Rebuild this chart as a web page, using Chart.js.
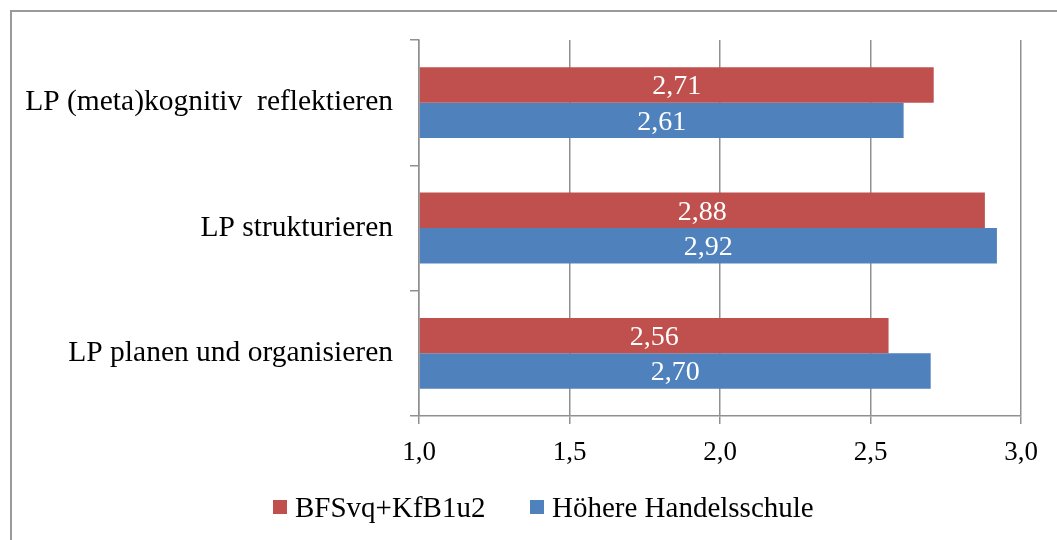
<!DOCTYPE html>
<html>
<head>
<meta charset="utf-8">
<script src="https://cdn.jsdelivr.net/npm/chart.js@4"></script>
<style>
  html, body { margin: 0; padding: 0; background: #fff; }
  #wrap { position: relative; width: 1057px; height: 540px; overflow: hidden; }
  #frame { position: absolute; left: 10px; top: 10px; width: 1100px; height: 600px; border: 2px solid #9a9a9a; box-sizing: border-box; }
  #c { position: absolute; left: 0; top: 0; }
</style>
</head>
<body>
<div id="wrap">
  <div id="frame"></div>
  <canvas id="c" width="1057" height="540"></canvas>
</div>
<script>
const categories = ['LP (meta)kognitiv  reflektieren', 'LP strukturieren', 'LP planen und organisieren'];
const seriesNames = ['BFSvq+KfB1u2', 'Höhere Handelsschule'];
const bfsValues = [2.71, 2.88, 2.56];
const hhValues = [2.61, 2.92, 2.70];
const xTicks = [1.0, 1.5, 2.0, 2.5, 3.0];

const RED = '#c0504d';
const BLUE = '#4f81bd';
const FONT = '"Liberation Serif", "Times New Roman", serif';
const fmt = v => Number(v).toFixed(2).replace('.', ',');

const labelPlugin = {
  id: 'barLabels',
  afterDatasetsDraw(chart) {
    const ctx = chart.ctx;
    ctx.save();
    ctx.font = '28px ' + FONT;
    ctx.fillStyle = '#ffffff';
    ctx.textAlign = 'center';
    ctx.textBaseline = 'middle';
    chart.data.datasets.forEach((ds, di) => {
      const meta = chart.getDatasetMeta(di);
      meta.data.forEach((bar, i) => {
        const p = bar.getProps(['x', 'y', 'base'], true);
        ctx.fillText(fmt(ds.data[i]), (p.x + p.base) / 2, p.y + 2);
      });
    });
    ctx.restore();
  }
};

const legendPlugin = {
  id: 'customLegend',
  afterDraw(chart) {
    const ctx = chart.ctx;
    const items = [
      { x: 273, color: RED, text: seriesNames[0] },
      { x: 530, color: BLUE, text: seriesNames[1] }
    ];
    ctx.save();
    ctx.font = '29px ' + FONT;
    ctx.textBaseline = 'alphabetic';
    ctx.textAlign = 'left';
    items.forEach(it => {
      ctx.fillStyle = it.color;
      ctx.fillRect(it.x, 500, 14, 14);
      ctx.fillStyle = '#000';
      ctx.fillText(it.text, it.x + 22, 517);
    });
    ctx.restore();
  }
};

new Chart(document.getElementById('c'), {
  type: 'bar',
  data: {
    labels: categories,
    datasets: [
      { label: seriesNames[0], data: bfsValues, backgroundColor: RED, base: 1,
        categoryPercentage: 0.565, barPercentage: 1.0 },
      { label: seriesNames[1], data: hhValues, backgroundColor: BLUE, base: 1,
        categoryPercentage: 0.565, barPercentage: 1.0 }
    ]
  },
  options: {
    indexAxis: 'y',
    responsive: false,
    animation: false,
    devicePixelRatio: 1,
    layout: { padding: { left: 0, top: 40, right: 36, bottom: 74 } },
    plugins: {
      legend: { display: false },
      tooltip: { enabled: false }
    },
    scales: {
      x: {
        min: 1, max: 3,
        afterBuildTicks(scale) { scale.ticks = xTicks.map(v => ({ value: v })); },
        afterFit(scale) { scale.height = 50; },
        ticks: {
          color: '#000',
          font: { family: FONT, size: 27 },
          padding: 13,
          callback: v => Number(v).toFixed(1).replace('.', ',')
        },
        grid: { color: '#909090', lineWidth: 1.5, tickLength: 8 },
        border: { color: '#909090', width: 1.5 }
      },
      y: {
        afterFit(scale) { scale.width = 419; },
        ticks: {
          color: '#000',
          font: { family: FONT, size: 29.5 },
          padding: 17
        },
        grid: { drawOnChartArea: false, color: '#909090', lineWidth: 1.5, tickLength: 9, offset: true },
        border: { color: '#909090', width: 1.5 }
      }
    }
  },
  plugins: [labelPlugin, legendPlugin]
});
</script>
</body>
</html>
